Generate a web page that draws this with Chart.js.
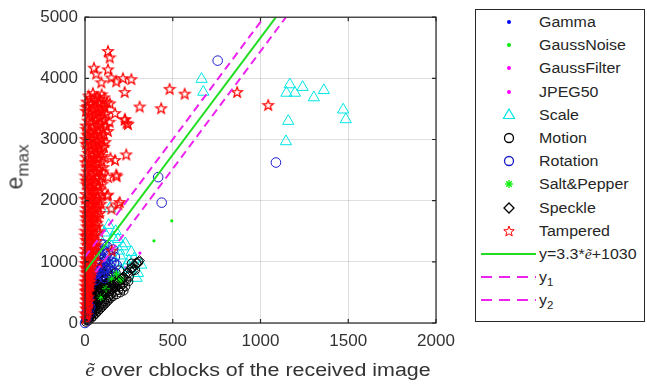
<!DOCTYPE html>
<html><head><meta charset="utf-8">
<script src="https://cdn.jsdelivr.net/npm/chart.js@4.4.0/dist/chart.umd.min.js"></script>
<style>
html,body{margin:0;padding:0;background:#fff;}
#wrap{position:relative;width:647px;height:385px;overflow:hidden;font-family:"Liberation Sans",Arial,sans-serif;color:#262626;font-weight:400;}
#c{position:absolute;left:0;top:0;}
#ylab{position:absolute;left:19px;top:167px;transform:translate(-50%,-50%) rotate(-90deg);white-space:nowrap;font-size:23px;line-height:24px;font-weight:400;color:#3a3a3a;}
#ylab sub{font-size:17px;vertical-align:-6px;}
#xlab{position:absolute;left:258px;top:370px;transform:translate(-50%,-50%) scaleX(1.19);white-space:nowrap;font-size:18px;line-height:20px;color:#333;}
.tl{font-family:"Liberation Serif","Times New Roman",serif;font-style:italic;}
#legend{position:absolute;left:475px;top:9px;width:170px;height:313px;border:1px solid #262626;box-sizing:border-box;background:#fff;}
.row{position:absolute;left:0;width:168px;height:20px;}
.row svg{position:absolute;left:0;top:0;}
.row span.t{position:absolute;left:63px;top:0;font-size:14px;line-height:20px;white-space:nowrap;transform:scaleX(1.14);transform-origin:0 50%;}
.row sub{font-size:10px;vertical-align:-4px;}
</style></head>
<body>
<div id="wrap">
<canvas id="c" width="647" height="385"></canvas>
<div id="ylab">e<sub>max</sub></div>
<div id="xlab"><span class="tl">ẽ</span> over cblocks of the received image</div>
<div id="legend"></div>
</div>
<script>
// ---------- data ----------
const xTicks = [0, 500, 1000, 1500, 2000];
const yTicks = [0, 1000, 2000, 3000, 4000, 5000];
const seriesNames = ["Gamma","GaussNoise","GaussFilter","JPEG50","Scale","Motion","Rotation","Salt&Pepper","Speckle","Tampered"];
const lineNames = ["y=3.3*ẽ+1030","y1","y2"];

const gammaPts = [[8,60],[12,110],[15,150],[20,210],[22,180],[25,260],[28,300],[30,240],[33,330],[35,380],[38,350],[40,420],[42,390],[45,470],[48,430],[50,520],[52,490],[55,560],[58,600],[60,540],[63,640],[65,610],[68,680],[70,720],[72,650],[75,760],[78,700],[80,810],[85,850],[90,880],[95,790],[100,920],[18,130],[26,220],[36,290],[46,400],[56,470],[66,590],[76,660],[86,740],
  [20,380],[30,460],[40,560],[50,650],[60,760],[70,860],[80,950],[90,1040],[110,980],[120,860],[130,940],[140,1020],[105,760],[115,700],[25,330],[35,520],[45,620],[55,720],[65,820],[75,920]];
const gaussNoisePts = [[494,1671],[393,1344],[60,300],[90,450],[120,500],[150,700]];
const gaussFilterPts = [[313,1143],[40,200],[80,380],[110,520],[130,560],[170,640]];
const jpeg50Pts = [[50,260],[90,420],[140,600],[200,760],[230,900]];
const scalePts = [[664,3988],[674,3777],[1167,3899],[1148,3761],[1196,3761],[1240,3856],[1304,3686],[1361,3804],[1471,3487],[1486,3328],[1158,3301],[1145,2968],
  [142,1873],[112,1476],[188,1370],[264,1158],[302,814],[256,894],[294,735],[150,1250],[200,1100],[230,1300],[170,1000],[120,1150],[240,950],[280,1050],[210,860],[160,1400],[130,900],[180,780],[320,950],[100,1300],
  [90,1550],[135,1600],[175,1500],[215,1250],[250,1020],[195,1180],[155,1080]];
const motionPts = [[5,20],[10,45],[15,70],[20,40],[25,90],[30,120],[35,80],[40,150],[45,110],[50,180],[55,140],[60,210],[65,170],[70,240],[75,200],[80,270],[85,230],[90,300],[95,260],[100,330],[105,290],[110,360],[115,320],[120,390],[125,350],[130,420],[135,380],[140,450],[145,410],[150,480],[160,440],[170,510],[180,470],[190,540],[200,500],[210,560],[220,530],[230,600],
  [20,120],[30,200],[40,260],[50,320],[60,380],[70,440],[80,500],[90,560],[100,620],[110,680],[120,740],[130,800],[140,700],[150,620],[160,560],[170,660],[180,600],[190,700],[200,640],[210,720],
  [64,1131],[85,1131],[247,682],[285,868],[218,735],[266,973],[304,1000],[245,814],[264,894],[292,973],[226,709],
  [25,300],[35,420],[45,540],[55,600],[65,700],[75,800],[95,900],[105,950],[115,1000],[125,850],[135,900],[155,760],[175,820],[195,860],[12,180],[8,90],[18,250],[28,350],[38,480],
  [10,60],[20,100],[20,160],[30,150],[30,240],[40,200],[40,320],[50,250],[50,400],[60,280],[60,450],[60,530],[70,330],[70,500],[70,620],[80,380],[80,560],[80,680],[90,420],[90,620],[100,450],[100,560],[100,680],[110,480],[110,600],[120,520],[120,640],[130,560],[140,520],[140,620],[150,560],[160,600],[170,580],
  [45,300],[55,350],[65,400],[75,450],[85,520],[95,580],[105,520],[115,580],[125,600],[35,200],[25,120],[15,80],[65,560],[75,680],[85,650],[55,480],[45,440],
  [185,660],[200,600],[215,640],[235,700],[250,760],[165,700],[145,760],[125,720],[95,760],[85,820]];
const rotationPts = [[0,0],[10,80],[17,206],[25,150],[30,260],[20,300],[15,330],[20,400],[12,250],[8,160],
  [74,1185],[93,1290],[112,735],[141,947],[159,841],[95,780],[100,880],[120,1000],[130,820],[150,900],[110,1050],[85,960],[60,700],[70,820],[130,1150],[105,1180],[165,980],
  [60,800],[70,900],[80,1000],[90,1100],[100,1200],[110,1280],[35,700],[45,800],[55,900],[65,1000],[75,1100],[120,900],[140,1100],[160,1200],[170,1080],[180,950],[150,1000],[125,1250],[85,800],[105,820],[115,920],
  [756,4290],[1088,2624],[417,2385],[437,1968]];
const saltPepperPts = [[150,720],[180,800],[120,560],[90,420],[200,700],[205,714]];
const specklePts = [[240,820],[270,900],[300,980],[255,870],[285,940],[220,760],[180,640],[150,560],[120,480],[90,380],[60,260],[30,140],[200,700],[160,620],[310,1020],[275,860]];
const tamperedPts = [
  [131,4448],[141,4344],[51,4174],[131,4147],[64,4079],[150,4015],[93,3936],[178,3952],[216,4004],[264,3988],[226,3777],[482,3829],[568,3750],[311,3539],[434,3512],[867,3777],[1044,3566],
  [235,2757],[178,2428],[131,2100],[198,1979],[150,1873],[226,3328],[245,3253],[142,3592],[171,3433],[228,3333],[237,3274],[171,2666],[180,2401],[124,2084],[190,1941],[152,1185],[76,1000],
  [20,3720],[45,3760],[70,3700],[95,3740],[110,3690],
  [10,3620],[35,3580],[58,3640],[80,3600],[105,3560],[125,3610],
  [5,3470],[28,3430],[50,3490],[75,3440],[98,3460],[118,3420],
  [15,3310],[38,3280],[62,3330],[88,3270],[110,3320],[140,3290],
  [8,3170],[30,3130],[55,3160],[78,3120],[100,3180],[130,3140],
  [3,3010],[25,2980],[48,3030],[70,2970],[95,3000],[115,2960],
  [12,2870],[35,2830],[60,2860],[85,2820],[108,2880],
  [5,2720],[28,2680],[52,2710],[75,2690],[100,2730],[145,2700],
  [10,2560],[32,2530],[55,2570],[80,2520],[105,2550],
  [2,2410],[22,2380],[45,2420],[68,2370],[92,2400],[130,2390],
  [8,2270],[30,2230],[52,2260],[75,2240],[100,2280],
  [4,2110],[25,2080],[46,2120],[70,2070],[95,2100],
  [10,1960],[30,1930],[50,1970],[72,1920],[90,1950],
  [3,1810],[22,1780],[42,1820],[65,1770],[85,1800],
  [8,1660],[28,1630],[48,1670],[68,1640],
  [2,1510],[20,1480],[40,1520],[60,1470],[80,1500],
  [6,1360],[25,1330],[45,1370],[65,1340],
  [3,1210],[20,1180],[38,1220],[55,1190],
  [5,1060],[22,1030],[40,1070],
  [2,910],[18,880],[35,920],
  [4,760],[20,730],[32,770],
  [2,610],[15,580],[28,620],
  [5,460],[18,430],[3,310],[15,280],[2,160],[10,130],
  [15,3550],[40,3380],[65,3520],[85,3250],[20,3050],[45,2920],[68,2780],[35,2620],[60,2480],[15,2320],[40,2170],[62,2020],[18,1870],[55,1720],[35,1580],[12,1420],[50,1260],[28,1120],[10,980],[25,820],[12,680],[8,520],[22,360],[6,240],
  [30,3680],[55,3690],[85,3670],
  [8,3530],[48,3540],[92,3520],[112,3530],
  [20,3380],[60,3400],[82,3370],[105,3390],
  [5,3230],[45,3220],[70,3240],[120,3220],
  [12,3080],[38,3090],[62,3070],[88,3080],[108,3090],
  [6,2930],[30,2920],[55,2940],[78,2930],[100,2920],
  [18,2780],[42,2770],[65,2790],[92,2780],
  [3,2630],[25,2640],[48,2620],[70,2630],[95,2640],
  [12,2480],[35,2470],[80,2490],[100,2480],
  [5,2330],[30,2320],[55,2340],[85,2330],
  [15,2180],[38,2190],[60,2170],[85,2180],
  [2,2030],[20,2040],[40,2030],[80,2020],
  [8,1880],[35,1890],[55,1870],[75,1880],
  [5,1730],[18,1720],[35,1740],[75,1730],
  [10,1580],[25,1590],[50,1570],[70,1580],
  [2,1430],[18,1440],[35,1420],[55,1430],
  [10,1280],[30,1290],[45,1270],[62,1280],
  [2,1130],[15,1140],[35,1130],[50,1120],
  [2,980],[30,990],[40,970],
  [8,830],[15,840],[40,820],
  [2,680],[22,690],[28,670],
  [3,530],[12,540],[22,520],
  [6,380],[10,390],[12,230],[4,80]];
// fitted line and bounds as drawn (end points)
const fitX = [0, 1088],  fitY = [840, 5000];
const y1X  = [0, 1020],  y1Y  = [1080, 5000];
const y2X  = [60, 1145], y2Y  = [830, 5000];

// ---------- rendering ----------
const toXY = a => a.map(p => ({x:p[0], y:p[1]}));
const zip = (xs, ys) => xs.map((v,i) => ({x:v, y:ys[i]}));

function pentagram(color, R){
  const s = Math.ceil(R*2+3), c = document.createElement('canvas');
  c.width = s; c.height = s;
  const g = c.getContext('2d'), r = R*0.42, cx = s/2, cy = s/2 + 0.5;
  g.beginPath();
  for(let i=0;i<10;i++){
    const ang = -Math.PI/2 + i*Math.PI/5, rad = i%2 ? r : R;
    const px = cx + rad*Math.cos(ang), py = cy + rad*Math.sin(ang);
    i ? g.lineTo(px,py) : g.moveTo(px,py);
  }
  g.closePath(); g.strokeStyle = color; g.lineWidth = 1.25; g.stroke();
  return c;
}
const starImg = pentagram('#ff0000', 5.5);

const base = {showLine:false, clip:false, pointHoverRadius:0};
const datasets = [
  {...base, label:seriesNames[0], data:toXY(gammaPts), pointStyle:'circle', pointRadius:1.6, backgroundColor:'#0000ff', borderWidth:0, order:10},
  {...base, label:seriesNames[1], data:toXY(gaussNoisePts), pointStyle:'circle', pointRadius:1.6, backgroundColor:'#00ee00', borderWidth:0, order:9},
  {...base, label:seriesNames[2], data:toXY(gaussFilterPts), pointStyle:'circle', pointRadius:1.6, backgroundColor:'#ff00ff', borderWidth:0, order:8},
  {...base, label:seriesNames[3], data:toXY(jpeg50Pts), pointStyle:'circle', pointRadius:1.6, backgroundColor:'#ff00ff', borderWidth:0, order:7},
  {...base, label:seriesNames[4], data:toXY(scalePts), pointStyle:'triangle', pointRadius:6.5, backgroundColor:'rgba(0,0,0,0)', borderColor:'#00e5e5', borderWidth:1, order:6},
  {...base, label:seriesNames[5], data:toXY(motionPts), pointStyle:'circle', pointRadius:4.5, backgroundColor:'rgba(0,0,0,0)', borderColor:'#000000', borderWidth:1, order:5},
  {...base, label:seriesNames[6], data:toXY(rotationPts), pointStyle:'circle', pointRadius:4.8, backgroundColor:'rgba(0,0,0,0)', borderColor:'#1a1acc', borderWidth:1, order:4},
  {...base, label:seriesNames[7], data:toXY(saltPepperPts), pointStyle:'star', pointRadius:4, backgroundColor:'rgba(0,0,0,0)', borderColor:'#00ee00', borderWidth:1, order:3},
  {...base, label:seriesNames[8], data:toXY(specklePts), pointStyle:'rectRot', pointRadius:5, backgroundColor:'rgba(0,0,0,0)', borderColor:'#000000', borderWidth:1, order:2},
  {...base, label:seriesNames[9], data:toXY(tamperedPts), pointStyle:starImg, pointRadius:5, order:1},
  {label:lineNames[0], data:zip(fitX,fitY), showLine:true, pointRadius:0, borderColor:'#22dd22', borderWidth:2, order:0},
  {label:lineNames[1], data:zip(y1X,y1Y), showLine:true, pointRadius:0, borderColor:'#ee22ee', borderWidth:2, borderDash:[8,5], order:0},
  {label:lineNames[2], data:zip(y2X,y2Y), showLine:true, pointRadius:0, borderColor:'#ee22ee', borderWidth:2, borderDash:[8,5], order:0}
];

const frame = {
  id:'frame',
  afterDraw(chart){
    const {ctx, chartArea:a, scales:{x,y}} = chart;
    ctx.save();
    ctx.strokeStyle = '#262626'; ctx.lineWidth = 1.2;
    ctx.strokeRect(a.left, a.top, a.right-a.left, a.bottom-a.top);
    ctx.beginPath();
    xTicks.forEach(v => { const p = x.getPixelForValue(v);
      ctx.moveTo(p,a.bottom); ctx.lineTo(p,a.bottom-4); ctx.moveTo(p,a.top); ctx.lineTo(p,a.top+4); });
    yTicks.forEach(v => { const p = y.getPixelForValue(v);
      ctx.moveTo(a.left,p); ctx.lineTo(a.left+4,p); ctx.moveTo(a.right,p); ctx.lineTo(a.right-4,p); });
    ctx.stroke();
    ctx.restore();
  }
};

const tickFont = {family:'"Liberation Sans", Arial, sans-serif', size:17};
new Chart(document.getElementById('c'), {
  type:'scatter',
  data:{datasets},
  options:{
    responsive:false, animation:false, devicePixelRatio:1,
    layout:{padding:{top:9, right:211, left:0, bottom:0}},
    plugins:{legend:{display:false}, tooltip:{enabled:false}},
    scales:{
      x:{type:'linear', min:0, max:2000,
         afterBuildTicks:s => { s.ticks = xTicks.map(v=>({value:v})); },
         afterFit:s => { s.height = 62; },
         ticks:{font:tickFont, color:'#333333', padding:8, maxRotation:0, callback:v => String(v)},
         grid:{color:'rgba(38,38,38,0.15)', drawTicks:false}, border:{display:false}},
      y:{type:'linear', min:0, max:5000,
         afterBuildTicks:s => { s.ticks = yTicks.map(v=>({value:v})); },
         afterFit:s => { s.width = 85; },
         ticks:{font:tickFont, color:'#333333', padding:7, callback:v => String(v)},
         grid:{color:'rgba(38,38,38,0.15)', drawTicks:false}, border:{display:false}}
    }
  },
  plugins:[frame]
});

// ---------- legend (HTML) ----------
const mk = {
  dot: c => `<circle cx="33" cy="10" r="2" fill="${c}"/>`,
  tri: c => `<polygon points="33,4 38.5,13.5 27.5,13.5" fill="none" stroke="${c}" stroke-width="1.2"/>`,
  circ: c => `<circle cx="33" cy="10" r="4.5" fill="none" stroke="${c}" stroke-width="1.3"/>`,
  ast: c => `<g stroke="${c}" stroke-width="1.3"><line x1="29" y1="10" x2="37" y2="10"/><line x1="33" y1="6" x2="33" y2="14"/><line x1="30.2" y1="7.2" x2="35.8" y2="12.8"/><line x1="35.8" y1="7.2" x2="30.2" y2="12.8"/></g>`,
  dia: c => `<polygon points="33,5 38,10 33,15 28,10" fill="none" stroke="${c}" stroke-width="1.3"/>`,
  pent: c => { let p=[]; for(let i=0;i<10;i++){const a=-Math.PI/2+i*Math.PI/5, r=i%2?2.3:5.5; p.push((33+r*Math.cos(a)).toFixed(2)+','+(10.5+r*Math.sin(a)).toFixed(2));} return `<polygon points="${p.join(' ')}" fill="none" stroke="${c}" stroke-width="1"/>`; },
  solid: c => `<line x1="5" y1="10" x2="60" y2="10" stroke="${c}" stroke-width="2"/>`,
  dash: c => `<line x1="5" y1="10" x2="60" y2="10" stroke="${c}" stroke-width="2" stroke-dasharray="11,7"/>`
};
const legendItems = [
  ['dot','#0000ff',seriesNames[0]],['dot','#00ee00',seriesNames[1]],['dot','#ff00ff',seriesNames[2]],['dot','#ff00ff',seriesNames[3]],
  ['tri','#00e5e5',seriesNames[4]],['circ','#000000',seriesNames[5]],['circ','#1a1acc',seriesNames[6]],['ast','#00ee00',seriesNames[7]],
  ['dia','#000000',seriesNames[8]],['pent','#ff0000',seriesNames[9]],
  ['solid','#22dd22','y=3.3*<span class="tl">ẽ</span>+1030'],
  ['dash','#ee22ee','y<sub>1</sub>'],['dash','#ee22ee','y<sub>2</sub>']
];
const lg = document.getElementById('legend');
legendItems.forEach((it,i) => {
  const d = document.createElement('div');
  d.className = 'row';
  d.style.top = (2 + i*23.2) + 'px';
  d.innerHTML = `<svg width="62" height="20">${mk[it[0]](it[1])}</svg><span class="t">${it[2]}</span>`;
  lg.appendChild(d);
});
</script>
</body></html>
